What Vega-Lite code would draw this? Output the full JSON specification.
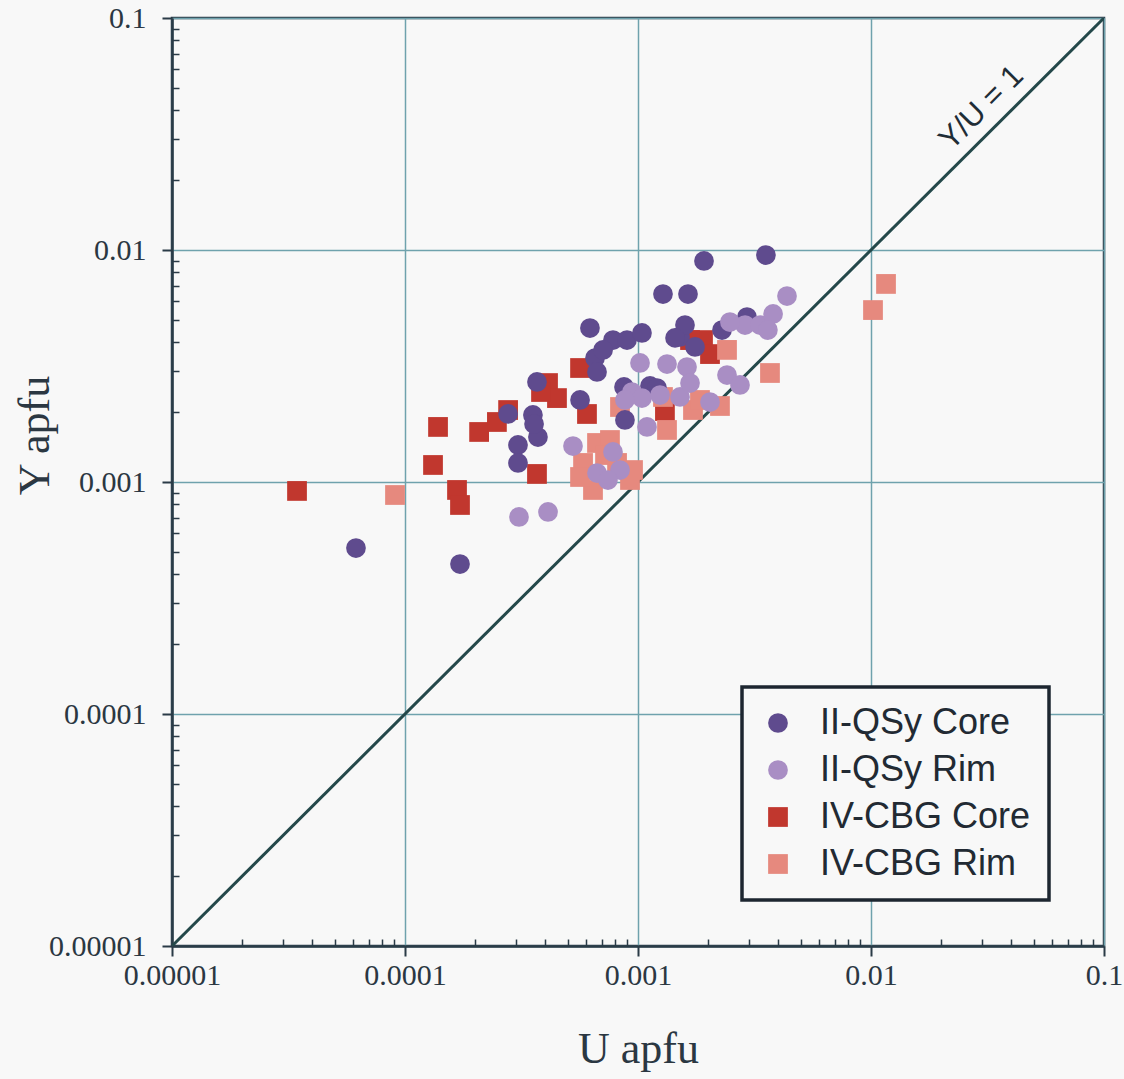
{
  "$schema": "https://vega.github.io/schema/vega-lite/v6.json",
  "width": 932,
  "height": 928,
  "autosize": {"type": "none"},
  "padding": {"left": 172, "top": 18, "right": 20, "bottom": 133},
  "background": "#f8f8f8",
  "config": {
    "view": {"stroke": "#2a3b47", "strokeWidth": 2.5},
    "font": "Liberation Serif",
    "legend": {"strokeWidth": 3.5, "labelLimit": 500}
  },
  "datasets": {
    "diag": [{"U": 0.00001, "Y": 0.00001}, {"U": 0.1, "Y": 0.1}],
    "lbl": [{"U": 0.0299, "Y": 0.0409, "label": "Y/U = 1"}],
    "pts": [
      {"group": "IV-CBG Core", "U": 0.0000344, "Y": 0.000915},
      {"group": "IV-CBG Core", "U": 0.0001386, "Y": 0.001727},
      {"group": "IV-CBG Core", "U": 0.0001319, "Y": 0.001184},
      {"group": "IV-CBG Core", "U": 0.0001672, "Y": 0.000924},
      {"group": "IV-CBG Core", "U": 0.0001722, "Y": 0.000796},
      {"group": "IV-CBG Core", "U": 0.000208, "Y": 0.001643},
      {"group": "IV-CBG Core", "U": 0.000248, "Y": 0.001814},
      {"group": "IV-CBG Core", "U": 0.000277, "Y": 0.002043},
      {"group": "IV-CBG Core", "U": 0.0003685, "Y": 0.001083},
      {"group": "IV-CBG Core", "U": 0.000411, "Y": 0.00267},
      {"group": "IV-CBG Core", "U": 0.000449, "Y": 0.0023},
      {"group": "IV-CBG Core", "U": 0.000564, "Y": 0.0031},
      {"group": "IV-CBG Core", "U": 0.000604, "Y": 0.001964},
      {"group": "IV-CBG Core", "U": 0.0003835, "Y": 0.002443},
      {"group": "IV-CBG Core", "U": 0.001901, "Y": 0.00409},
      {"group": "IV-CBG Core", "U": 0.002037, "Y": 0.00356},
      {"group": "IV-CBG Core", "U": 0.001305, "Y": 0.002023},
      {"group": "IV-CBG Core", "U": 0.001672, "Y": 0.00409},
      {"group": "IV-CBG Rim", "U": 0.0000906, "Y": 0.000879},
      {"group": "IV-CBG Rim", "U": 0.0102, "Y": 0.00551},
      {"group": "IV-CBG Rim", "U": 0.0116, "Y": 0.00714},
      {"group": "IV-CBG Rim", "U": 0.003685, "Y": 0.00295},
      {"group": "IV-CBG Rim", "U": 0.00241, "Y": 0.00371},
      {"group": "IV-CBG Rim", "U": 0.001332, "Y": 0.001676},
      {"group": "IV-CBG Rim", "U": 0.001722, "Y": 0.002043},
      {"group": "IV-CBG Rim", "U": 0.002248, "Y": 0.002126},
      {"group": "IV-CBG Rim", "U": 0.000837, "Y": 0.002105},
      {"group": "IV-CBG Rim", "U": 0.000581, "Y": 0.001208},
      {"group": "IV-CBG Rim", "U": 0.000667, "Y": 0.001473},
      {"group": "IV-CBG Rim", "U": 0.000641, "Y": 0.000924},
      {"group": "IV-CBG Rim", "U": 0.000924, "Y": 0.00102},
      {"group": "IV-CBG Rim", "U": 0.000564, "Y": 0.001051},
      {"group": "IV-CBG Rim", "U": 0.000813, "Y": 0.001208},
      {"group": "IV-CBG Rim", "U": 0.000952, "Y": 0.001126},
      {"group": "IV-CBG Rim", "U": 0.000758, "Y": 0.001517},
      {"group": "IV-CBG Rim", "U": 0.001845, "Y": 0.002257},
      {"group": "IV-CBG Rim", "U": 0.00128, "Y": 0.002325},
      {"group": "IV-CBG Rim", "U": 0.000722, "Y": 0.001307},
      {"group": "II-QSy Core", "U": 0.0000616, "Y": 0.000519},
      {"group": "II-QSy Core", "U": 0.0001722, "Y": 0.000443},
      {"group": "II-QSy Core", "U": 0.0003685, "Y": 0.0027},
      {"group": "II-QSy Core", "U": 0.000277, "Y": 0.001964},
      {"group": "II-QSy Core", "U": 0.000354, "Y": 0.001945},
      {"group": "II-QSy Core", "U": 0.000372, "Y": 0.001563},
      {"group": "II-QSy Core", "U": 0.0003055, "Y": 0.001444},
      {"group": "II-QSy Core", "U": 0.0003055, "Y": 0.001208},
      {"group": "II-QSy Core", "U": 0.000358, "Y": 0.001778},
      {"group": "II-QSy Core", "U": 0.000622, "Y": 0.00461},
      {"group": "II-QSy Core", "U": 0.000654, "Y": 0.00342},
      {"group": "II-QSy Core", "U": 0.000667, "Y": 0.00298},
      {"group": "II-QSy Core", "U": 0.000564, "Y": 0.002257},
      {"group": "II-QSy Core", "U": 0.000781, "Y": 0.00409},
      {"group": "II-QSy Core", "U": 0.000897, "Y": 0.00409},
      {"group": "II-QSy Core", "U": 0.00104, "Y": 0.00439},
      {"group": "II-QSy Core", "U": 0.000708, "Y": 0.00371},
      {"group": "II-QSy Core", "U": 0.000879, "Y": 0.001851},
      {"group": "II-QSy Core", "U": 0.000871, "Y": 0.002568},
      {"group": "II-QSy Core", "U": 0.001126, "Y": 0.002594},
      {"group": "II-QSy Core", "U": 0.00128, "Y": 0.00646},
      {"group": "II-QSy Core", "U": 0.001639, "Y": 0.00646},
      {"group": "II-QSy Core", "U": 0.00192, "Y": 0.00897},
      {"group": "II-QSy Core", "U": 0.00354, "Y": 0.00951},
      {"group": "II-QSy Core", "U": 0.001515, "Y": 0.00422},
      {"group": "II-QSy Core", "U": 0.001591, "Y": 0.00475},
      {"group": "II-QSy Core", "U": 0.001757, "Y": 0.00382},
      {"group": "II-QSy Core", "U": 0.002294, "Y": 0.00452},
      {"group": "II-QSy Core", "U": 0.002936, "Y": 0.00514},
      {"group": "II-QSy Core", "U": 0.001442, "Y": 0.00418},
      {"group": "II-QSy Core", "U": 0.001207, "Y": 0.00254},
      {"group": "II-QSy Rim", "U": 0.0003085, "Y": 0.000707},
      {"group": "II-QSy Rim", "U": 0.000411, "Y": 0.000743},
      {"group": "II-QSy Rim", "U": 0.000526, "Y": 0.001429},
      {"group": "II-QSy Rim", "U": 0.000667, "Y": 0.001093},
      {"group": "II-QSy Rim", "U": 0.000781, "Y": 0.001347},
      {"group": "II-QSy Rim", "U": 0.000837, "Y": 0.001126},
      {"group": "II-QSy Rim", "U": 0.000743, "Y": 0.00102},
      {"group": "II-QSy Rim", "U": 0.000942, "Y": 0.002443},
      {"group": "II-QSy Rim", "U": 0.001093, "Y": 0.001727},
      {"group": "II-QSy Rim", "U": 0.00102, "Y": 0.00326},
      {"group": "II-QSy Rim", "U": 0.001332, "Y": 0.003225},
      {"group": "II-QSy Rim", "U": 0.001623, "Y": 0.00313},
      {"group": "II-QSy Rim", "U": 0.00104, "Y": 0.0023},
      {"group": "II-QSy Rim", "U": 0.001515, "Y": 0.002325},
      {"group": "II-QSy Rim", "U": 0.002037, "Y": 0.002212},
      {"group": "II-QSy Rim", "U": 0.00241, "Y": 0.00289},
      {"group": "II-QSy Rim", "U": 0.00274, "Y": 0.00262},
      {"group": "II-QSy Rim", "U": 0.00288, "Y": 0.00475},
      {"group": "II-QSy Rim", "U": 0.00334, "Y": 0.00475},
      {"group": "II-QSy Rim", "U": 0.0038, "Y": 0.0053},
      {"group": "II-QSy Rim", "U": 0.00436, "Y": 0.00633},
      {"group": "II-QSy Rim", "U": 0.00361, "Y": 0.00452},
      {"group": "II-QSy Rim", "U": 0.001672, "Y": 0.00267},
      {"group": "II-QSy Rim", "U": 0.001243, "Y": 0.00237},
      {"group": "II-QSy Rim", "U": 0.000879, "Y": 0.002257},
      {"group": "II-QSy Rim", "U": 0.00248, "Y": 0.00489}
    ]
  },
  "layer": [
    {
      "data": {"name": "diag"},
      "mark": {"type": "line", "color": "#24484a", "strokeWidth": 3, "clip": true},
      "encoding": {
        "x": {
          "field": "U", "type": "quantitative",
          "scale": {"type": "log", "domain": [0.00001, 0.1], "nice": false},
          "axis": {
            "orient": "bottom",
            "values": [0.00002, 0.00003, 0.00004, 0.00005, 0.00006, 0.00007, 0.00008, 0.00009, 0.0002, 0.0003, 0.0004, 0.0005, 0.0006, 0.0007, 0.0008, 0.0009, 0.002, 0.003, 0.004, 0.005, 0.006, 0.007, 0.008, 0.009, 0.02, 0.03, 0.04, 0.05, 0.06, 0.07, 0.08, 0.09],
            "labels": false, "grid": false, "domain": false, "title": null,
            "tickSize": -7, "tickColor": "#2a3b47", "tickWidth": 1.5
          }
        },
        "y": {
          "field": "Y", "type": "quantitative",
          "scale": {"type": "log", "domain": [0.00001, 0.1], "nice": false},
          "axis": {
            "orient": "left",
            "values": [0.00002, 0.00003, 0.00004, 0.00005, 0.00006, 0.00007, 0.00008, 0.00009, 0.0002, 0.0003, 0.0004, 0.0005, 0.0006, 0.0007, 0.0008, 0.0009, 0.002, 0.003, 0.004, 0.005, 0.006, 0.007, 0.008, 0.009, 0.02, 0.03, 0.04, 0.05, 0.06, 0.07, 0.08, 0.09],
            "labels": false, "grid": false, "domain": false, "title": null,
            "tickSize": -7, "tickColor": "#2a3b47", "tickWidth": 1.5
          }
        }
      }
    },
    {
      "data": {"name": "pts"},
      "mark": {"type": "point", "filled": true, "opacity": 1},
      "encoding": {
        "x": {
          "field": "U", "type": "quantitative",
          "scale": {"type": "log", "domain": [0.00001, 0.1], "nice": false},
          "axis": {
            "orient": "bottom",
            "values": [0.00001, 0.0001, 0.001, 0.01, 0.1],
            "format": ".5~f",
            "grid": true, "gridColor": "#6fa2ad", "gridWidth": 1.5, "gridOpacity": 1,
            "domainColor": "#2a3b47", "domainWidth": 2.5,
            "tickColor": "#2a3b47", "tickWidth": 2, "tickSize": 10,
            "labelFont": "Liberation Serif", "labelFontSize": 30, "labelColor": "#2b3742", "labelPadding": 4,
            "labelFlush": false,
            "title": "U apfu", "titleFont": "Liberation Serif", "titleFontSize": 44, "titleFontWeight": "normal",
            "titleColor": "#2b3742", "titleBaseline": "alphabetic", "titleY": 116
          }
        },
        "y": {
          "field": "Y", "type": "quantitative",
          "scale": {"type": "log", "domain": [0.00001, 0.1], "nice": false},
          "axis": {
            "orient": "left",
            "values": [0.00001, 0.0001, 0.001, 0.01, 0.1],
            "format": ".5~f",
            "grid": true, "gridColor": "#6fa2ad", "gridWidth": 1.5, "gridOpacity": 1,
            "domainColor": "#2a3b47", "domainWidth": 2.5,
            "tickColor": "#2a3b47", "tickWidth": 2, "tickSize": 10,
            "labelFont": "Liberation Serif", "labelFontSize": 30, "labelColor": "#2b3742", "labelPadding": 16,
            "labelFlush": false,
            "title": "Y apfu", "titleFont": "Liberation Serif", "titleFontSize": 44, "titleFontWeight": "normal",
            "titleColor": "#2b3742", "titleBaseline": "alphabetic", "titleX": -124, "titleY": 417, "titleAngle": -90, "titleAlign": "center"
          }
        },
        "color": {
          "field": "group", "type": "nominal",
          "scale": {"domain": ["II-QSy Core", "II-QSy Rim", "IV-CBG Core", "IV-CBG Rim"], "range": ["#5f4b8e", "#a98ec4", "#c1372e", "#e6897e"]},
          "legend": {
            "title": null, "orient": "none", "legendX": 570, "legendY": 669,
            "padding": 18, "rowPadding": 11, "labelOffset": 24, "labelLimit": 500,
            "labelFont": "Liberation Sans", "labelFontSize": 36, "labelColor": "#222a33",
            "strokeColor": "#1d2630", "fillColor": "#f8f8f8",
            "symbolSize": 380
          }
        },
        "shape": {
          "field": "group", "type": "nominal",
          "scale": {"domain": ["II-QSy Core", "II-QSy Rim", "IV-CBG Core", "IV-CBG Rim"], "range": ["circle", "circle", "square", "square"]},
          "legend": {
            "title": null, "orient": "none", "legendX": 570, "legendY": 669,
            "padding": 18, "rowPadding": 11, "labelOffset": 24, "labelLimit": 500,
            "labelFont": "Liberation Sans", "labelFontSize": 36, "labelColor": "#222a33",
            "strokeColor": "#1d2630", "fillColor": "#f8f8f8",
            "symbolSize": 380
          }
        },
        "size": {
          "field": "group", "type": "nominal",
          "scale": {"domain": ["II-QSy Core", "II-QSy Rim", "IV-CBG Core", "IV-CBG Rim"], "range": [390, 390, 470, 470]},
          "legend": null
        }
      }
    },
    {
      "data": {"name": "lbl"},
      "mark": {"type": "text", "angle": -45, "font": "Liberation Sans", "fontSize": 31, "color": "#1f2d36", "align": "center", "baseline": "middle"},
      "encoding": {
        "x": {"field": "U", "type": "quantitative", "scale": {"type": "log", "domain": [0.00001, 0.1], "nice": false}, "axis": null},
        "y": {"field": "Y", "type": "quantitative", "scale": {"type": "log", "domain": [0.00001, 0.1], "nice": false}, "axis": null},
        "text": {"field": "label"}
      }
    }
  ],
  "resolve": {"axis": {"x": "independent", "y": "independent"}}
}
